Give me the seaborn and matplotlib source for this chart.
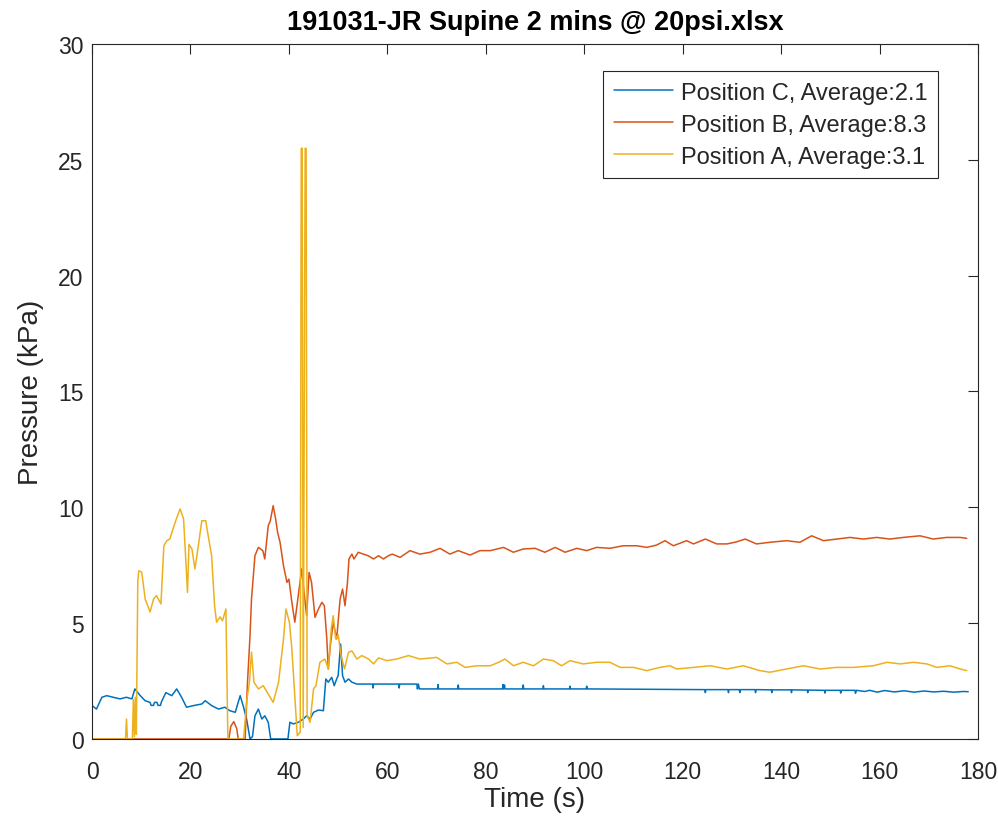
import pandas as pd
import seaborn as sns
from matplotlib import pyplot as plt

# (time s, pressure kPa)
pos_c = [(0, 1.44), (0.9, 1.29), (2.0, 1.80), (3.0, 1.87), (4.3, 1.80), (5.7, 1.73), (7.0, 1.80),
         (8.1, 1.73), (8.7, 2.16), (9.8, 1.87), (10.8, 1.65), (11.8, 1.58), (12.0, 1.45), (12.5, 1.45),
         (12.7, 1.58), (13.2, 1.58), (13.4, 1.45), (13.9, 1.45), (14.1, 1.60), (15.0, 2.00), (16.2, 1.87),
         (17.2, 2.16), (18.2, 1.80), (19.2, 1.37), (20.6, 1.44), (22.3, 1.51), (23.0, 1.65), (24.3, 1.44),
         (25.7, 1.29), (27.0, 1.37), (28.0, 1.22), (29.1, 1.15), (30.1, 1.87), (30.7, 1.44), (31.4, 0.86),
         (32.1, 0.0), (32.6, 0.1), (33.1, 1.0), (33.8, 1.29), (34.5, 0.86), (35.1, 1.0), (35.8, 0.72),
         (36.3, 0.0), (39.8, 0.0), (40.2, 0.72), (40.9, 0.65), (41.9, 0.72), (42.9, 0.86), (43.6, 1.0),
         (44.3, 0.86), (45.0, 1.15), (46.0, 1.25), (47.0, 1.22), (47.5, 2.59), (48.0, 2.45), (48.7, 2.66),
         (49.2, 2.30), (49.7, 2.59), (50.0, 2.73), (50.5, 4.10), (50.9, 2.73), (51.4, 2.45), (52.1, 2.59),
         (52.8, 2.45), (53.8, 2.37), (57.0, 2.37), (57.1, 2.20), (57.2, 2.37), (62.3, 2.37), (62.4, 2.20),
         (62.5, 2.37), (66.0, 2.37), (66.1, 2.16), (66.3, 2.37), (66.5, 2.16), (70.2, 2.16), (70.3, 2.35),
         (70.4, 2.16), (74.3, 2.16), (74.4, 2.33), (74.5, 2.16), (83.4, 2.16), (83.5, 2.35), (83.6, 2.16),
         (83.8, 2.33), (83.9, 2.16), (87.5, 2.16), (87.6, 2.33), (87.7, 2.16), (91.6, 2.16), (91.7, 2.30),
         (91.8, 2.16), (97.0, 2.16), (97.1, 2.28), (97.2, 2.16), (100.4, 2.16), (100.5, 2.28), (100.6, 2.16),
         (124.5, 2.13), (124.6, 2.0), (124.7, 2.13), (129.2, 2.13), (129.3, 2.0), (129.4, 2.13),
         (131.5, 2.13), (131.6, 2.0), (131.7, 2.13), (134.7, 2.13), (134.8, 2.0), (134.9, 2.13),
         (138.0, 2.12), (138.1, 2.0), (138.2, 2.12), (142.0, 2.12), (142.1, 2.0), (142.2, 2.12),
         (145.3, 2.11), (145.4, 2.0), (145.5, 2.11), (148.8, 2.10), (148.9, 1.98), (149.0, 2.10),
         (152.0, 2.10), (152.1, 1.98), (152.2, 2.10), (155.0, 2.10), (155.1, 1.97), (155.3, 2.10),
         (157.0, 2.05), (158.0, 2.10), (159.5, 2.02), (161.0, 2.09), (163.0, 2.03), (165.0, 2.08),
         (167.0, 2.02), (169.0, 2.07), (171.0, 2.03), (173.0, 2.06), (175.0, 2.02), (177.0, 2.05),
         (178.0, 2.04)]

pos_b = [(0, 0.0), (27.8, 0.0), (28.2, 0.55), (28.8, 0.75), (29.4, 0.45), (29.7, 0.0), (31.1, 0.0),
         (31.6, 2.5), (32.1, 4.46), (32.4, 6.04), (33.1, 7.91), (33.8, 8.27), (34.7, 8.13), (35.1, 7.77),
         (35.8, 9.21), (36.2, 9.4), (36.8, 10.07), (37.3, 9.5), (37.7, 8.92), (38.2, 8.49), (38.9, 7.48),
         (39.6, 6.76), (40.0, 6.9), (40.6, 5.9), (41.2, 5.04), (41.9, 6.19), (42.6, 7.34), (43.0, 6.5),
         (43.6, 5.32), (44.1, 7.19), (44.6, 6.76), (45.3, 5.25), (46.0, 5.61), (46.7, 5.9), (47.2, 5.75),
         (47.7, 4.32), (48.0, 3.02), (48.4, 4.0), (49.0, 5.04), (49.7, 4.32), (50.4, 6.04), (50.9, 6.47),
         (51.4, 5.75), (51.9, 6.76), (52.2, 7.77), (52.8, 7.98), (53.2, 7.77), (54.1, 8.06), (55.1, 7.98),
         (56.1, 7.91), (57.2, 7.77), (58.2, 7.91), (59.2, 7.77), (60.2, 7.91), (61.0, 7.98), (62.6, 7.84),
         (64.6, 8.13), (66.6, 7.98), (68.7, 8.06), (70.7, 8.23), (72.7, 7.98), (74.4, 8.13), (76.8, 7.94),
         (78.8, 8.13), (80.9, 8.13), (83.6, 8.27), (85.6, 8.06), (87.6, 8.2), (90.0, 8.23), (92.0, 8.06),
         (94.1, 8.27), (96.1, 8.06), (98.5, 8.23), (100.5, 8.13), (102.5, 8.27), (105.2, 8.23),
         (107.9, 8.34), (110.7, 8.34), (112.7, 8.27), (114.7, 8.37), (116.4, 8.56), (118.1, 8.34),
         (120.8, 8.56), (122.2, 8.42), (124.6, 8.63), (126.9, 8.42), (129.0, 8.42), (130.8, 8.5),
         (132.7, 8.63), (135.0, 8.42), (137.7, 8.49), (141.1, 8.56), (143.8, 8.49), (146.2, 8.77),
         (148.6, 8.56), (151.3, 8.63), (154.0, 8.7), (156.7, 8.63), (159.4, 8.7), (162.1, 8.63),
         (164.8, 8.7), (168.2, 8.77), (170.9, 8.63), (173.6, 8.7), (176.4, 8.7), (177.7, 8.66)]

pos_a = [(0, 0.0), (6.8, 0.0), (7.0, 0.86), (7.2, 0.0), (8.2, 0.0), (8.4, 1.7), (8.6, 0.1), (8.8, 1.8),
         (9.0, 0.2), (9.3, 6.8), (9.5, 7.26), (10.1, 7.2), (10.8, 6.04), (11.8, 5.48), (12.5, 6.04),
         (13.1, 6.19), (14.0, 5.83), (14.6, 8.34), (15.2, 8.56), (15.8, 8.63), (16.9, 9.36), (17.9, 9.93),
         (18.6, 9.5), (19.0, 7.9), (19.4, 6.33), (19.7, 8.4), (20.3, 8.2), (20.9, 7.34), (21.6, 8.34),
         (22.3, 9.42), (23.1, 9.42), (23.6, 8.77), (24.3, 7.91), (24.9, 5.75), (25.3, 5.04), (26.0, 5.27),
         (26.5, 5.1), (27.2, 5.61), (27.6, 0.0), (30.8, 0.0), (31.4, 1.58), (32.0, 2.5), (32.4, 3.75),
         (32.9, 2.45), (33.8, 2.16), (34.8, 2.3), (35.8, 1.94), (36.8, 1.58), (37.9, 2.45), (38.9, 4.32),
         (39.4, 5.61), (40.1, 5.04), (40.6, 3.88), (41.2, 1.87), (41.7, 0.14), (42.3, 0.3), (42.5, 25.5),
         (42.7, 25.5), (42.9, 0.5), (43.3, 25.5), (43.5, 25.5), (43.7, 1.0), (44.3, 0.72), (45.0, 2.16),
         (45.5, 2.3), (46.3, 3.31), (47.3, 3.45), (48.0, 3.02), (48.6, 4.75), (49.0, 5.32), (49.5, 4.32),
         (50.0, 4.5), (50.6, 3.6), (51.3, 3.02), (52.1, 3.74), (52.8, 3.8), (53.8, 3.45), (54.8, 3.6),
         (56.2, 3.45), (57.2, 3.24), (58.2, 3.5), (59.9, 3.38), (61.9, 3.45), (64.3, 3.6), (66.6, 3.45),
         (70.0, 3.52), (72.1, 3.24), (74.1, 3.31), (75.8, 3.09), (78.2, 3.16), (80.9, 3.16), (82.6, 3.31),
         (83.9, 3.45), (85.6, 3.16), (87.6, 3.31), (89.7, 3.16), (91.7, 3.45), (93.7, 3.38), (95.4, 3.16),
         (97.1, 3.38), (99.8, 3.24), (102.5, 3.31), (105.2, 3.31), (107.3, 3.09), (110.0, 3.09),
         (112.7, 2.95), (115.4, 3.09), (117.4, 3.16), (118.8, 3.02), (122.2, 3.09), (125.6, 3.16),
         (129.0, 3.02), (132.3, 3.16), (135.7, 2.95), (137.7, 2.88), (141.1, 3.02), (144.5, 3.16),
         (147.9, 3.02), (151.3, 3.09), (154.7, 3.09), (158.7, 3.16), (161.5, 3.31), (164.2, 3.24),
         (166.9, 3.31), (169.6, 3.24), (171.6, 3.09), (174.3, 3.16), (176.4, 3.02), (177.7, 2.95)]

labels = ['Position C, Average:2.1', 'Position B, Average:8.3', 'Position A, Average:3.1']
colors = ['#0072BD', '#D95319', '#EDB120']
x_ticks = [0, 20, 40, 60, 80, 100, 120, 140, 160, 180]
y_ticks = [0, 5, 10, 15, 20, 25, 30]


def to_df(series, label):
    return pd.DataFrame([[t, v, label] for t, v in series], columns=['time', 'pressure', 'pos'])


df = pd.concat([to_df(s, l) for s, l in zip([pos_c, pos_b, pos_a], labels)], ignore_index=True)

sns.set_theme(style="white")
plt.rcParams['font.family'] = ['Liberation Sans', 'DejaVu Sans']

fig = plt.figure(figsize=(9.98, 8.29), dpi=100)
ax = fig.add_axes([0.0922, 0.1074, 0.8878, 0.8383])
sns.lineplot(data=df, x='time', y='pressure', hue='pos', hue_order=labels, palette=colors,
             estimator=None, sort=False, linewidth=1.1, ax=ax)

ax.set(xlim=(0, 180), ylim=(0, 30))
ax.set_xticks(x_ticks)
ax.set_yticks(y_ticks)
ax.tick_params(direction='in', top=True, right=True, length=7, width=0.8,
               labelsize=16.5, colors='#262626', labelcolor='#262626')
ax.tick_params(axis='x', pad=15)
ax.tick_params(axis='y', pad=6)
for sp in ax.spines.values():
    sp.set_color('#262626')
    sp.set_linewidth(0.8)

ax.set_xlabel('Time (s)', fontsize=20, color='#262626', labelpad=2)
ax.set_ylabel('Pressure (kPa)', fontsize=20, color='#262626', labelpad=10)
ax.set_title('191031-JR Supine 2 mins @ 20psi.xlsx', fontsize=19.5, fontweight='bold', color='black', pad=11)

handles, labs = ax.get_legend_handles_labels()
leg = ax.legend(handles, labs, loc='upper right', bbox_to_anchor=(0.955, 0.961), fontsize=17,
                frameon=True, fancybox=False, edgecolor='#262626', framealpha=1,
                handlelength=2.5, handletextpad=0.33, labelspacing=0.42, borderpad=0.45, borderaxespad=0)
leg.get_frame().set_linewidth(0.8)

fig.savefig('out.png', dpi=100)
